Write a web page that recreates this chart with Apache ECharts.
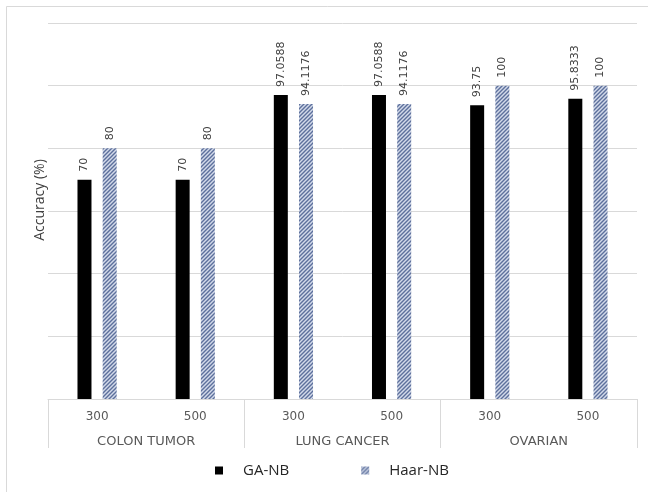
<!DOCTYPE html>
<html>
<head>
<meta charset="utf-8">
<script src="https://cdn.jsdelivr.net/npm/echarts@6/dist/echarts.min.js"></script>
<style>
  html, body { margin: 0; padding: 0; background: #ffffff; }
  #chart { width: 648px; height: 492px; }
</style>
</head>
<body>
<div id="chart"></div>
<script>
// Feature counts per dataset and the dataset groups
const featureCounts = ['300', '500', '300', '500', '300', '500'];
const datasetGroups = ['COLON TUMOR', 'LUNG CANCER', 'OVARIAN'];

// Classification accuracy (%)
const gaNB = [70, 70, 97.0588, 97.0588, 93.75, 95.8333];
const haarNB = [80, 80, 94.1176, 94.1176, 100, 100];

// Value axis ticks
const yMin = 0, yMax = 120, yStep = 20;

// Diagonal hatch fill for the Haar-NB series
function makeHatch() {
  const s = 4;
  const c = document.createElement('canvas');
  c.width = s; c.height = s;
  const g = c.getContext('2d');
  g.fillStyle = '#d3daea';
  g.fillRect(0, 0, s, s);
  g.strokeStyle = '#5d709c';
  g.lineWidth = 1.4;
  g.beginPath();
  g.moveTo(0, s); g.lineTo(s, 0);
  g.moveTo(-1, 1); g.lineTo(1, -1);
  g.moveTo(s - 1, s + 1); g.lineTo(s + 1, s - 1);
  g.stroke();
  return c;
}
const hatch = { image: makeHatch(), repeat: 'repeat' };

const chart = echarts.init(document.getElementById('chart'), null, { renderer: 'canvas' });

const valueLabel = {
  show: true,
  position: 'top',
  rotate: 90,
  align: 'left',
  verticalAlign: 'middle',
  distance: 8,
  color: '#404040',
  fontSize: 11,
  fontFamily: 'DejaVu Sans',
  formatter: p => String(p.value)
};

chart.setOption({
  animation: false,
  backgroundColor: '#ffffff',
  grid: { left: 48, right: 11, top: 23, bottom: 93, containLabel: false },
  graphic: [
    {
      type: 'rect',
      shape: { x: 6.5, y: 6.5, width: 700, height: 600 },
      style: { fill: 'none', stroke: '#d9d9d9', lineWidth: 1 },
      silent: true
    },
    {
      type: 'text',
      x: 40, y: 200,
      rotation: Math.PI / 2,
      style: {
        text: 'Accuracy (%)',
        fill: '#404040',
        fontSize: 14,
        fontFamily: 'Open Sans',
        align: 'center',
        verticalAlign: 'middle'
      }
    }
  ],
  legend: {
    bottom: 9,
    left: 210,
    itemWidth: 8,
    itemHeight: 8,
    itemGap: 72,
    icon: 'rect',
    textStyle: { color: '#262626', fontSize: 15, fontFamily: 'Open Sans', padding: [0, 0, 0, 15] },
    data: ['GA-NB', 'Haar-NB']
  },
  xAxis: [
    {
      type: 'category',
      data: featureCounts,
      position: 'bottom',
      axisLine: { show: true, lineStyle: { color: '#d9d9d9', width: 1 } },
      axisTick: { show: false },
      axisLabel: { color: '#595959', fontSize: 12, fontFamily: 'DejaVu Sans', margin: 12 },
      splitLine: { show: false }
    },
    {
      type: 'category',
      data: datasetGroups,
      position: 'bottom',
      offset: 0,
      axisLine: { show: false },
      axisTick: { show: true, length: 49, lineStyle: { color: '#d9d9d9', width: 1 } },
      axisLabel: { color: '#595959', fontSize: 13, fontFamily: 'DejaVu Sans', margin: 36 },
      splitLine: { show: false }
    }
  ],
  yAxis: {
    type: 'value',
    min: yMin,
    max: yMax,
    interval: yStep,
    axisLine: { show: false },
    axisTick: { show: false },
    axisLabel: { show: false },
    splitLine: { show: true, lineStyle: { color: '#d9d9d9', width: 1 } }
  },
  series: [
    {
      name: 'GA-NB',
      type: 'bar',
      xAxisIndex: 0,
      data: gaNB,
      barWidth: 14,
      barGap: '80%',
      itemStyle: { color: '#000000' },
      label: valueLabel
    },
    {
      name: 'Haar-NB',
      type: 'bar',
      xAxisIndex: 0,
      data: haarNB,
      barWidth: 14,
      barGap: '80%',
      itemStyle: { color: hatch },
      label: valueLabel
    }
  ]
});
</script>
</body>
</html>
